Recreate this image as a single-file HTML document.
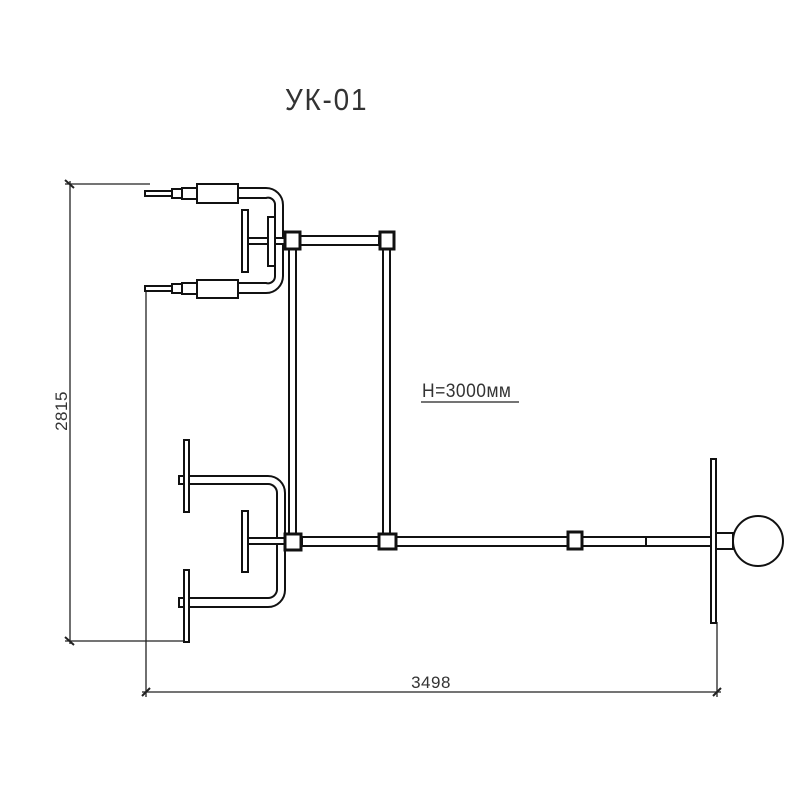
<!DOCTYPE html>
<html><head><meta charset="utf-8"><style>html,body{margin:0;padding:0;background:#fff}svg{display:block}</style></head>
<body>
<svg width="800" height="800" viewBox="0 0 800 800" xmlns="http://www.w3.org/2000/svg" font-family="'Liberation Sans','DejaVu Sans',sans-serif">
<rect width="800" height="800" fill="#fff"/>
<g fill="#fff" stroke="#111" stroke-width="2">
<g fill="none" stroke="#222" stroke-width="1.3">
<line x1="65" y1="184" x2="150" y2="184"/>
<line x1="65" y1="641" x2="190" y2="641"/>
<line x1="70" y1="181" x2="70" y2="644"/>
<line x1="146" y1="290" x2="146" y2="697"/>
<line x1="717" y1="622" x2="717" y2="697"/>
<line x1="142" y1="692" x2="721" y2="692"/>
<line x1="65" y1="180" x2="74" y2="188" stroke-width="2"/>
<line x1="65" y1="637" x2="74" y2="645" stroke-width="2"/>
<line x1="142" y1="696" x2="150" y2="688" stroke-width="2"/>
<line x1="713" y1="696" x2="721" y2="688" stroke-width="2"/>
</g>
<path d="M238 188 H266 A17 17 0 0 1 283 205 V276 A17 17 0 0 1 266 293 H238 V283 H266 A7 7 0 0 0 275 276 V205 A7 7 0 0 0 266 198 H238 Z"/>
<rect x="145" y="191" width="28" height="5"/>
<rect x="172" y="189" width="10" height="9" fill="#fff"/>
<rect x="182" y="188" width="16" height="11"/>
<rect x="197" y="184" width="41" height="19"/>
<rect x="145" y="286" width="28" height="5"/>
<rect x="172" y="284" width="10" height="9"/>
<rect x="182" y="283" width="16" height="11"/>
<rect x="197" y="280" width="41" height="18"/>
<rect x="248" y="238" width="37" height="6"/>
<rect x="242" y="210" width="6" height="62"/>
<rect x="268" y="217" width="7" height="49"/>
<rect x="289" y="249" width="7" height="285"/>
<rect x="383" y="249" width="7" height="285"/>
<rect x="300" y="236" width="79" height="9"/>
<rect x="285" y="232" width="15" height="17" stroke-width="3"/>
<rect x="380" y="232" width="14" height="17" stroke-width="3"/>
<path d="M179 476 H268 A17 17 0 0 1 285 493 V590 A17 17 0 0 1 268 607 H179 V598 H268 A9 9 0 0 0 277 590 V493 A9 9 0 0 0 268 484 H179 Z"/>
<rect x="184" y="440" width="5" height="72"/>
<rect x="184" y="570" width="5" height="72"/>
<rect x="248" y="538" width="37" height="6"/>
<rect x="242" y="511" width="6" height="61"/>
<rect x="302" y="537" width="410" height="9"/>
<line x1="646" y1="537" x2="646" y2="546"/>
<rect x="285" y="534" width="16" height="16" stroke-width="3"/>
<rect x="379" y="534" width="17" height="15" stroke-width="3"/>
<rect x="568" y="532" width="14" height="17" stroke-width="3"/>
<rect x="711" y="459" width="5" height="164"/>
<rect x="716" y="533" width="17" height="16"/>
<circle cx="758" cy="541" r="25"/>
</g>
<text x="285" y="110" font-size="31" fill="#333" letter-spacing="2" transform="translate(285 0) scale(0.9 1) translate(-285 0)">УК-01</text>
<text x="422" y="397" font-size="19" fill="#333" letter-spacing="0.5" transform="translate(422 0) scale(0.92 1) translate(-422 0)">Н=3000мм</text>
<line x1="421" y1="402" x2="519" y2="402" stroke="#222" stroke-width="1.3"/>
<text x="431" y="688" font-size="17" fill="#333" text-anchor="middle" letter-spacing="0.5">3498</text>
<text x="0" y="0" font-size="17" fill="#333" text-anchor="middle" letter-spacing="0.5" transform="translate(67 411) rotate(-90)">2815</text>
</svg>
</body></html>
